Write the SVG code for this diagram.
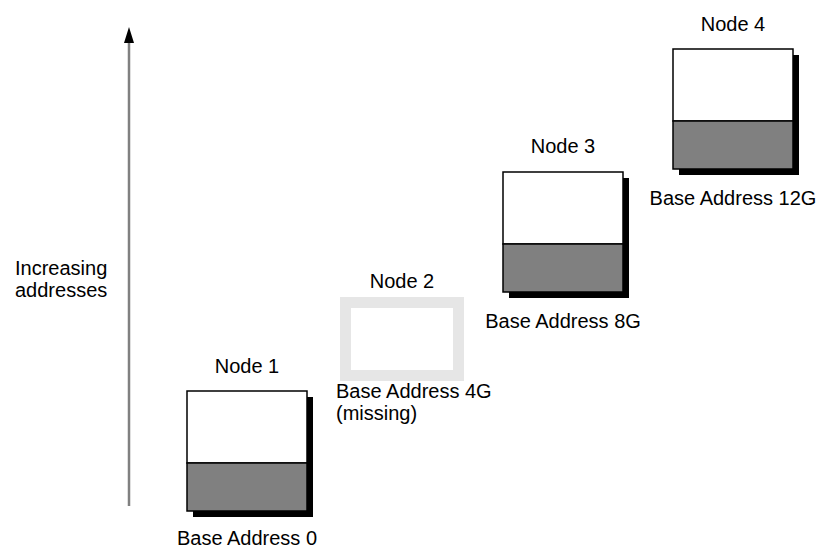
<svg xmlns="http://www.w3.org/2000/svg" width="832" height="551" viewBox="0 0 832 551">
  <style>
    text { font-family: "Liberation Sans", Arial, sans-serif; font-size: 20px; fill: #000; }
    .mid { text-anchor: middle; }
    .shadow { fill: #000; }
    .top { fill: #fff; stroke: #000; stroke-width: 1.5; }
    .bottom { fill: #808080; stroke: #000; stroke-width: 1.5; }
    .frame { fill: none; stroke: #e6e6e6; stroke-width: 11; }
    .axis { stroke: #808080; stroke-width: 2.5; fill: none; }
  </style>
  <defs>
    <marker id="head" markerWidth="10" markerHeight="18" refX="5" refY="16" orient="auto-start-reverse" markerUnits="userSpaceOnUse">
      <path d="M0,16 L5,0 L10,16 Z" fill="#000"/>
    </marker>
  </defs>

  <rect width="832" height="551" fill="#fff"/>

  <g id="connectors">
    <line class="axis" x1="129" y1="506" x2="129" y2="43"/>
    <path d="M124,43 L129,27 L134,43 Z" fill="#000"/>
  </g>

  <g id="axis-label">
    <text x="15" y="275">Increasing</text>
    <text x="15" y="297">addresses</text>
  </g>

  <g id="node1">
    <rect class="shadow" x="193" y="397" width="120" height="120"/>
    <rect class="top" x="187" y="391" width="120" height="72"/>
    <rect class="bottom" x="187" y="463" width="120" height="48"/>
    <text class="mid" x="247" y="373">Node 1</text>
    <text class="mid" x="247" y="545">Base Address 0</text>
  </g>

  <g id="node2">
    <rect class="frame" x="345.5" y="302.5" width="113" height="73"/>
    <text class="mid" x="402" y="288">Node 2</text>
    <text x="336" y="398">Base Address 4G</text>
    <text x="336" y="420">(missing)</text>
  </g>

  <g id="node3">
    <rect class="shadow" x="509" y="178" width="120" height="120"/>
    <rect class="top" x="503" y="172" width="120" height="72"/>
    <rect class="bottom" x="503" y="244" width="120" height="48"/>
    <text class="mid" x="563" y="153">Node 3</text>
    <text class="mid" x="563" y="328">Base Address 8G</text>
  </g>

  <g id="node4">
    <rect class="shadow" x="679" y="55" width="120" height="120"/>
    <rect class="top" x="673" y="49" width="120" height="72"/>
    <rect class="bottom" x="673" y="121" width="120" height="48"/>
    <text class="mid" x="733" y="31">Node 4</text>
    <text class="mid" x="733" y="205">Base Address 12G</text>
  </g>
</svg>
